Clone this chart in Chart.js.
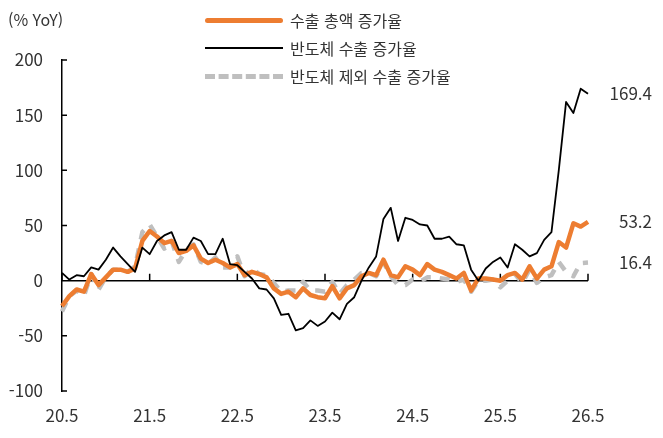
<!DOCTYPE html>
<html lang="ko">
<head>
    <meta charset="UTF-8">
    <title>수출 증가율</title>
    <script src="https://cdn.jsdelivr.net/npm/chart.js@4.4.1/dist/chart.umd.min.js"></script>
    <style>
        body {
            margin: 0;
            background: #fff;
            font-family: 'Noto Sans CJK KR', 'Noto Sans', sans-serif;
            color: #333;
        }
        #wrap {
            position: relative;
            width: 663px;
            height: 438px;
        }
        #unit {
            position: absolute;
            left: 8px;
            top: 8px;
            font-size: 16px;
            line-height: 22px;
        }
        .legend {
            position: absolute;
            left: 205px;
            top: 6px;
            font-size: 16px;
            line-height: 22px;
        }
        .row {
            display: flex;
            align-items: center;
            height: 28px;
        }
        .swatch {
            width: 78px;
            margin-right: 7px;
            box-sizing: border-box;
        }
        .s-total { border-top: 5px solid #ed7d31; border-radius: 3px; }
        .s-semi { border-top: 2px solid #000; }
        .s-other { border-top: 5px dashed #bfbfbf; }
    </style>
</head>
<body>
    <div id="wrap">
        <canvas id="chart"></canvas>
        <div id="unit">(% YoY)</div>
        <div class="legend">
            <div class="row"><div class="swatch s-total"></div><span>수출 총액 증가율</span></div>
            <div class="row"><div class="swatch s-semi"></div><span>반도체 수출 증가율</span></div>
            <div class="row"><div class="swatch s-other"></div><span>반도체 제외 수출 증가율</span></div>
        </div>
    </div>

    <script>
        // 월별 (20.5 ~ 26.5)
        const months = [
            '20.5', '20.6', '20.7', '20.8', '20.9', '20.10', '20.11', '20.12',
            '21.1', '21.2', '21.3', '21.4', '21.5', '21.6', '21.7', '21.8', '21.9', '21.10', '21.11', '21.12',
            '22.1', '22.2', '22.3', '22.4', '22.5', '22.6', '22.7', '22.8', '22.9', '22.10', '22.11', '22.12',
            '23.1', '23.2', '23.3', '23.4', '23.5', '23.6', '23.7', '23.8', '23.9', '23.10', '23.11', '23.12',
            '24.1', '24.2', '24.3', '24.4', '24.5', '24.6', '24.7', '24.8', '24.9', '24.10', '24.11', '24.12',
            '25.1', '25.2', '25.3', '25.4', '25.5', '25.6', '25.7', '25.8', '25.9', '25.10', '25.11', '25.12',
            '26.1', '26.2', '26.3', '26.4', '26.5'
        ];
        const shownLabels = ['20.5', '21.5', '22.5', '23.5', '24.5', '25.5', '26.5'];

        const totalExports = [
            -23, -14, -8, -10, 6, -4, 3, 10,
            10, 8, 11, 36, 45, 40, 34, 36, 25, 27, 32, 20,
            16, 19, 16, 12, 15, 5, 8, 6, 3, -7, -12, -10,
            -15, -7, -13, -15, -16, -5, -16, -7, -4, 4, 7, 5,
            19, 5, 3, 13, 10, 5, 15, 10, 8, 5, 2, 7,
            -9, 2, 2, 1, 0, 5, 7, 1, 13, 2, 10, 13,
            35, 30, 52, 49, 53.2
        ];
        const semiExports = [
            7, 1, 5, 4, 12, 10, 19, 30,
            22, 15, 8, 30, 24, 36, 41, 44, 28, 28, 39, 36,
            24, 24, 38, 15, 14, 8, 2, -7, -8, -16, -31, -30,
            -45, -43, -36, -41, -37, -29, -35, -21, -15, 0, 12, 22,
            56, 66, 36, 57, 55, 51, 50, 38, 38, 40, 33, 32,
            10, 0, 11, 17, 21, 12, 33, 28, 22, 25, 37, 44,
            100, 162, 152, 174, 169.4
        ];
        const nonSemiExports = [
            -28, -14, -9, -14, 6, -8, 3, 10,
            10, 8, 13, 44, 51, 40, 29, 36, 17, 28, 33, 17,
            15, 21, 12, 12, 22, 4, 11, 6, 5, -2, -10, -9,
            -9, -1, -9, -9, -10, -1, -12, -4, 1, 7, 7, 4,
            17, 4, -4, -4, 1, -1, 3, 3, 2, 1, -1, 1,
            -10, 0, 0, 1, -6, 0, 6, -2, 10, -2, 3, 5,
            17, 8, 4, 16, 16.4
        ];

        const yTicks = [-100, -50, 0, 50, 100, 150, 200];
        const FONT = "'Noto Sans CJK KR', 'Noto Sans', sans-serif";

        // 0선, 안쪽 눈금, 마지막 값 표시
        const axisMarks = {
            id: 'axisMarks',
            beforeDatasetsDraw(chart) {
                const { ctx, chartArea, scales: { x, y } } = chart;
                const y0 = y.getPixelForValue(0);
                ctx.save();
                ctx.strokeStyle = '#000';
                ctx.lineWidth = 1.5;
                ctx.beginPath();
                ctx.moveTo(chartArea.left, y0);
                ctx.lineTo(chartArea.right, y0);
                months.forEach((m, i) => {
                    if (shownLabels.includes(m)) {
                        const px = x.getPixelForValue(i);
                        ctx.moveTo(px, y0);
                        ctx.lineTo(px, y0 - 7);
                    }
                });
                yTicks.forEach(v => {
                    const py = y.getPixelForValue(v);
                    ctx.moveTo(chartArea.left, py);
                    ctx.lineTo(chartArea.left + 5, py);
                });
                ctx.stroke();
                ctx.restore();
            },
            afterDatasetsDraw(chart) {
                const { ctx, scales: { y } } = chart;
                ctx.save();
                ctx.fillStyle = '#333';
                ctx.font = '17px ' + FONT;
                ctx.textAlign = 'right';
                ctx.textBaseline = 'middle';
                [semiExports, totalExports, nonSemiExports].forEach(arr => {
                    const v = arr[arr.length - 1];
                    ctx.fillText(v.toFixed(1), 652, y.getPixelForValue(v));
                });
                ctx.restore();
            }
        };

        new Chart(document.getElementById('chart'), {
            type: 'line',
            data: {
                labels: months,
                datasets: [
                    {
                        label: '반도체 수출 증가율',
                        data: semiExports,
                        borderColor: '#000',
                        borderWidth: 1.8,
                        order: 0
                    },
                    {
                        label: '수출 총액 증가율',
                        data: totalExports,
                        borderColor: '#ed7d31',
                        borderWidth: 4.5,
                        order: 1
                    },
                    {
                        label: '반도체 제외 수출 증가율',
                        data: nonSemiExports,
                        borderColor: '#bfbfbf',
                        borderWidth: 4.5,
                        borderDash: [10, 9],
                        order: 2
                    }
                ]
            },
            options: {
                responsive: true,
                maintainAspectRatio: false,
                animation: false,
                elements: {
                    point: { radius: 0 },
                    line: { tension: 0, borderJoinStyle: 'round', fill: false }
                },
                layout: { padding: { top: 60, right: 75, bottom: 0, left: 0 } },
                plugins: {
                    legend: { display: false },
                    tooltip: { enabled: false }
                },
                scales: {
                    x: {
                        offset: false,
                        grid: { display: false, drawTicks: false },
                        border: { display: false },
                        ticks: {
                            autoSkip: false,
                            maxRotation: 0,
                            padding: 14,
                            color: '#333',
                            font: { family: FONT, size: 17 },
                            callback: function (value) {
                                const lab = this.getLabelForValue(value);
                                return shownLabels.includes(lab) ? lab : '';
                            }
                        },
                        afterFit: scale => { scale.height = 47; }
                    },
                    y: {
                        min: -100,
                        max: 200,
                        grid: { display: false, drawTicks: false },
                        border: { display: true, color: '#000', width: 1.5 },
                        ticks: {
                            stepSize: 50,
                            padding: 19,
                            color: '#333',
                            font: { family: FONT, size: 17 }
                        },
                        afterFit: scale => { scale.width = 62; }
                    }
                }
            },
            plugins: [axisMarks]
        });
    </script>
</body>
</html>
